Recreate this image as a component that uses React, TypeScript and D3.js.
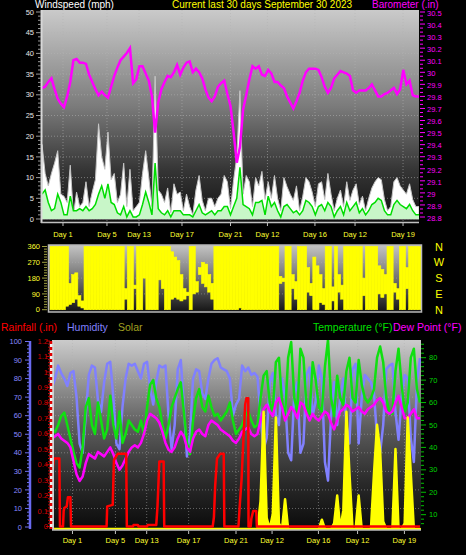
import React from 'react';
import * as d3 from 'd3';

// one sample every 6 hours across the 30 day window
const sampleHours = d3.range(0, 721, 6);
const days = sampleHours.map(h => h / 24);

const dayTicks = [1.67, 5.17, 7.72, 11.14, 15.0, 17.94, 21.72, 24.91, 28.73];
const dayLabels = ['Day 1', 'Day 5', 'Day 13', 'Day 17', 'Day 21', 'Day 12', 'Day 16', 'Day 12', 'Day 19'];

const windTicks = [0, 5, 10, 15, 20, 25, 30, 35, 40, 45, 50];
const baroTicks = [28.8, 28.9, 29.0, 29.1, 29.2, 29.3, 29.4, 29.5, 29.6, 29.7, 29.8, 29.9, 30.0, 30.1, 30.2, 30.3, 30.4, 30.5];
const dirTicks = [0, 90, 180, 270, 360];
const dirLetters = ['N', 'E', 'S', 'W', 'N'];
const humTicks = [0, 10, 20, 30, 40, 50, 60, 70, 80, 90, 100];
const rainTicks = [0, 0.1, 0.2, 0.3, 0.4, 0.5, 0.6, 0.7, 0.8, 0.9, 1, 1.1, 1.2];
const tempTicks = [10, 20, 30, 40, 50, 60, 70, 80];

// wind speed (mph)
const windGust = [
  18, 11, 8, 11, 13.5, 16.5, 6, 5.5, 4, 13,
  1, 6.5, 3, 4, 9, 3, 6.5, 9.5, 23, 15,
  12, 21, 9.5, 11, 4, 6, 13.5, 3, 12, 2,
  3, 4, 11, 16.5, 10, 3, 34.5, 7, 6, 4,
  7.5, 1.5, 8.5, 6, 6.5, 2, 6, 3, 1, 7,
  10.5, 4.5, 2, 5, 5, 3, 5, 6, 10.5, 9,
  2.5, 9.5, 15, 31, 6, 10.5, 9, 3, 10, 8,
  11.5, 4.7, 9, 5, 10.5, 5, 2, 10, 7.8, 6,
  4.5, 8, 2, 5.5, 10, 9, 6.5, 3, 8.5, 9,
  4.7, 11, 6, 2, 5, 7, 3, 9, 4.5, 7,
  8.5, 3.5, 5.5, 2, 5, 7.5, 9, 10, 9.5, 4.7,
  2, 3, 9, 10, 8, 7, 6, 8.5, 4.7, 3,
  3,
];
const windAvg = [
  6, 7, 4, 2, 2.5, 6, 4, 1, 1, 5.5,
  2, 2, 2.5, 2, 3, 2, 2.5, 3.5, 6, 8,
  5, 8.5, 4, 3.5, 1.5, 1, 3, 0.5, 2, 0.5,
  0.5, 1, 3.5, 6.5, 4, 1, 13.5, 2.5, 1.5, 1,
  2, 0.5, 2, 2, 2, 1, 1, 1, 0.5, 2,
  3.5, 1.5, 1, 1.5, 2, 1, 2, 2, 3, 3,
  1, 3, 5, 12.5, 3.5, 3, 2.5, 1, 4, 4,
  4.5, 1, 5.5, 3, 4, 2, 0.5, 3, 3.5, 2.5,
  1.5, 2, 1, 2, 4.5, 4, 3, 1, 3, 3.5,
  2, 4, 3, 0.5, 2, 3, 1, 4, 2, 3,
  4, 1.5, 2.5, 1, 2, 3.5, 4, 5, 4.5, 2,
  1, 1, 3.5, 4.5, 3.5, 3, 2.5, 3.5, 2, 1,
  1,
];
// barometer (inHg)
const baro = [
  29.87, 29.88, 29.92, 29.95, 29.86, 29.78, 29.74, 29.71, 29.8, 29.92,
  30.1, 30.11, 30.08, 30.08, 30.07, 29.98, 29.92, 29.86, 29.81, 29.84,
  29.81, 29.79, 29.88, 29.97, 30.04, 30.1, 30.13, 30.16, 30.2, 29.91,
  29.94, 30.05, 30.05, 29.99, 29.93, 29.8, 29.5, 29.75, 29.86, 29.92,
  29.97, 29.96, 30.0, 30.06, 29.98, 30.04, 30.08, 30.09, 30.0, 30.03,
  30.0, 29.95, 29.86, 29.79, 29.76, 29.8, 29.88, 29.91, 29.93, 29.82,
  29.72, 29.5, 29.25, 29.38, 29.69, 29.81, 29.94, 30.05, 30.03, 30.05,
  29.98, 29.97, 30.02, 29.99, 29.92, 29.92, 29.89, 29.87, 29.8, 29.75,
  29.7, 29.76, 29.83, 29.93, 30.0, 30.03, 30.03, 30.03, 30.02, 29.96,
  29.88, 29.83, 29.87, 29.95, 29.98, 30.01, 30.0, 29.99, 29.97, 29.85,
  29.83, 29.85, 29.85, 29.85, 29.87, 29.9, 29.85, 29.8, 29.8, 29.82,
  29.83, 29.85, 29.87, 29.82, 29.86, 30.02, 29.9, 29.93, 29.81, 29.8,
  29.8,
];
// wind direction range per 6 hour bin (degrees)
const windDirLow = [
  0, 0, 0, 0, 0, 20, 30, 40, 60, 20,
  10, 0, 0, 0, 0, 0, 0, 0, 0, 0,
  0, 0, 0, 0, 60, 0, 0, 120, 0, 0,
  180, 0, 0, 0, 0, 170, 120, 0, 0, 60,
  70, 60, 50, 60, 80, 0, 90, 100, 200, 150,
  130, 100, 60, 0, 0, 0, 0, 0, 0, 0,
  0, 10, 0, 0, 0, 0, 0, 0, 0, 0,
  0, 0, 0, 0, 150, 160, 0, 0, 120, 60,
  0, 0, 0, 100, 80, 0, 0, 40, 30, 0,
  0, 50, 0, 100, 60, 0, 0, 0, 0, 0,
  0, 80, 0, 0, 0, 0, 90, 70, 90, 0,
  0, 100, 60, 0, 0, 120, 0, 0, 0, 0,
];
const windDirHigh = [
  360, 360, 360, 360, 360, 360, 150, 200, 210, 80,
  50, 360, 360, 360, 360, 360, 360, 360, 360, 360,
  360, 360, 360, 360, 120, 360, 360, 140, 360, 360,
  360, 360, 360, 360, 360, 360, 360, 360, 360, 330,
  300, 280, 200, 120, 100, 360, 360, 160, 240, 270,
  260, 200, 150, 360, 360, 360, 360, 360, 360, 360,
  360, 360, 360, 360, 360, 360, 360, 360, 360, 360,
  360, 360, 360, 360, 190, 180, 360, 360, 200, 160,
  360, 360, 360, 240, 150, 300, 250, 200, 120, 360,
  360, 130, 360, 200, 140, 360, 360, 360, 360, 360,
  360, 180, 360, 360, 360, 360, 250, 230, 200, 360,
  360, 150, 120, 360, 360, 240, 360, 360, 360, 360,
];
// humidity (%)
const humidity = [
  75, 80, 87, 83, 80, 76, 83, 84, 70, 45,
  40, 60, 82, 87, 86, 68, 62, 78, 88, 89,
  70, 45, 42, 65, 80, 88, 87, 88, 84, 80,
  88, 89, 75, 66, 78, 87, 86, 87, 60, 42,
  55, 85, 90, 65, 38, 50, 80, 85, 84, 72,
  69, 80, 88, 90, 91, 86, 85, 84, 80, 60,
  66, 69, 87, 84, 86, 82, 83, 81, 60, 42,
  48, 78, 83, 60, 55, 80, 70, 40, 36, 72,
  78, 40, 45, 82, 86, 60, 68, 87, 80, 35,
  25, 60, 78, 55, 70, 80, 55, 45, 85, 88,
  45, 70, 82, 80, 78, 72, 48, 40, 55, 85,
  87, 88, 62, 47, 70, 82, 80, 48, 35, 78,
  91,
];
// temperature (F)
const temperature = [
  48, 47, 50, 54, 55.5, 50, 44, 38, 33, 31,
  40, 58, 62, 50, 46, 60, 52, 44, 48, 63,
  50, 44, 56, 42, 46, 52, 50, 48, 47, 52,
  46, 58, 68, 70, 62, 58, 50, 44, 50, 58,
  62, 66, 69, 56, 42, 37, 52, 62, 66, 58,
  56, 63, 58, 54, 55, 52, 54, 56, 60, 52,
  46, 48, 50, 54, 56, 52, 49, 50, 62, 72,
  74, 60, 56, 78, 80, 60, 54, 80, 87, 62,
  56, 84, 80, 58, 55, 78, 70, 58, 56, 76,
  88, 62, 54, 72, 62, 59, 74, 80, 62, 60,
  79, 68, 62, 60, 62, 66, 80, 85, 78, 62,
  56, 55, 74, 84, 68, 56, 60, 80, 84, 66,
  60,
];
// dew point (F)
const dewPoint = [
  44, 45, 46, 44, 43, 42, 40, 34, 28, 25,
  27, 33, 37, 36, 35, 38, 37, 36, 38, 40,
  37, 33, 30, 32, 35, 38, 40, 41, 40, 42,
  46, 52, 55, 54, 53, 51, 47, 42, 39, 38,
  40, 44, 47, 45, 40, 38, 44, 47, 48, 46,
  45, 50, 52, 51, 50, 48, 47, 46, 45, 43,
  42, 44, 47, 48, 49, 46, 45, 46, 52, 57,
  59, 56, 54, 60, 62, 58, 52, 55, 58, 56,
  53, 60, 59, 55, 52, 55, 53, 52, 54, 56,
  55, 51, 48, 52, 56, 57, 59, 58, 56, 57,
  58, 56, 55, 57, 58, 59, 61, 62, 60, 56,
  55, 56, 60, 63, 58, 53, 53, 55, 57, 53,
  53,
];
// solar (W/m2)
const solar = [
  0, 0, 0, 0, 0, 0, 0, 0, 0, 0,
  0, 0, 0, 0, 0, 0, 0, 0, 0, 0,
  0, 0, 0, 0, 0, 0, 0, 0, 0, 0,
  0, 0, 0, 0, 0, 0, 0, 0, 0, 0,
  0, 0, 0, 0, 0, 0, 0, 0, 0, 0,
  0, 0, 0, 0, 0, 0, 0, 0, 0, 0,
  0, 0, 0, 0, 0, 0, 0, 0, 150, 630,
  60, 0, 80, 600, 30, 0, 160, 0, 0, 0,
  0, 0, 0, 0, 0, 0, 0, 0, 50, 0,
  0, 0, 30, 180, 0, 100, 630, 300, 0, 0,
  180, 0, 0, 0, 0, 300, 560, 420, 40, 0,
  0, 0, 430, 0, 0, 30, 600, 300, 0, 0,
  0,
];
// daily rain (in): [day, value]
const rain: [number, number][] = [
  [0, 0.32], [0.15, 0.44], [0.6, 0.44], [0.65, 0], [0.9, 0], [0.95, 0.1], [1.0, 0.12], [1.2, 0.13],
  [1.3, 0.19], [1.5, 0.19], [1.55, 0], [4.45, 0], [4.5, 0.13], [4.95, 0.14], [5.05, 0.43], [5.35, 0.47],
  [6.05, 0.47], [6.1, 0], [6.6, 0], [6.65, 0.01], [7.0, 0.01], [7.05, 0], [7.75, 0], [7.8, 0.01],
  [8.5, 0.01], [8.6, 0.13], [8.75, 0.42], [9.1, 0.42], [9.15, 0], [13.1, 0], [13.2, 0.06], [13.3, 0.26],
  [13.45, 0.44], [13.7, 0.47], [14.0, 0.47], [14.05, 0], [15.2, 0], [15.3, 0.13], [15.45, 0.3], [15.6, 0.56],
  [15.75, 0.79], [15.85, 0.83], [16.0, 0.83], [16.02, 0], [16.2, 0], [16.25, 0.05], [16.4, 0.1], [16.65, 0.1],
  [16.7, 0], [30, 0],
];

const FONT = '"Liberation Sans", Arial, sans-serif';

// scales
const xTop = d3.scaleLinear().domain([0, 30]).range([42, 419]);
const xMid = d3.scaleLinear().domain([0, 30]).range([50, 421]);
const xBot = d3.scaleLinear().domain([0, 30]).range([52, 420]);
const yWind = d3.scaleLinear().domain([0, 50]).range([219, 12]);
const yBaro = d3.scaleLinear().domain([28.8, 30.5]).range([217, 12]);
const yDir = d3.scaleLinear().domain([0, 360]).range([309.7, 246.5]);
const yHum = d3.scaleLinear().domain([0, 100]).range([527, 341.5]);
const yRain = d3.scaleLinear().domain([0, 1.2]).range([526.5, 341]);
const yTemp = d3.scaleLinear().domain([0, 80]).range([537.1, 357.7]);
const ySolar = d3.scaleLinear().domain([0, 1000]).range([529, 343]);

const fmt1 = (v: number) => String(+v.toFixed(1));

const App: React.FC = () => {
  const gustPath = d3.area<number>()
    .x((_, i) => xTop(days[i])).y0(yWind(0)).y1(d => yWind(d))(windGust) || '';
  const avgArea = d3.area<number>()
    .x((_, i) => xTop(days[i])).y0(yWind(0)).y1(d => yWind(d))(windAvg) || '';
  const avgLine = d3.line<number>()
    .x((_, i) => xTop(days[i])).y(d => yWind(d))(windAvg) || '';
  const baroLine = d3.line<number>()
    .x((_, i) => xTop(days[i])).y(d => yBaro(d))(baro) || '';

  const botLine = (scale: d3.ScaleLinear<number, number>) =>
    d3.line<number>().x((_, i) => xBot(days[i])).y(d => scale(d));
  const humPath = botLine(yHum)(humidity) || '';
  const tempPath = botLine(yTemp)(temperature) || '';
  const dewPath = botLine(yTemp)(dewPoint) || '';
  const solarPath = d3.area<number>()
    .x((_, i) => xBot(days[i])).y0(ySolar(0)).y1(d => ySolar(d))(solar) || '';
  const rainPath = d3.line<[number, number]>()
    .x(d => xBot(d[0])).y(d => yRain(d[1]))(rain) || '';

  const windMinor = d3.range(0, 51, 1);
  const baroMinor = d3.range(0, 52).map(k => 28.8 + k * (0.1 / 3));
  const dirMinor = d3.range(0, 361, 15);
  const humMinor = d3.range(0, 101, 2);
  const rainMinor = d3.range(0, 61).map(k => k * 0.02);
  const tempMinor = d3.range(6, 88, 2);

  return (
    <svg width={466} height={555} style={{ position: 'absolute', left: 0, top: 0, background: '#000' }}>
      <defs>
        <linearGradient id="gTop" x1="0" y1="0" x2="0" y2="1">
          <stop offset="0" stopColor="#cacaca" />
          <stop offset="0.45" stopColor="#7c7c7c" />
          <stop offset="0.75" stopColor="#363636" />
          <stop offset="1" stopColor="#101010" />
        </linearGradient>
        <linearGradient id="gMid" x1="0" y1="0" x2="0" y2="1">
          <stop offset="0" stopColor="#c4c4c4" />
          <stop offset="0.5" stopColor="#707070" />
          <stop offset="1" stopColor="#141414" />
        </linearGradient>
        <linearGradient id="gBot" x1="0" y1="0" x2="0" y2="1">
          <stop offset="0" stopColor="#cbcbcb" />
          <stop offset="0.45" stopColor="#5e5e5e" />
          <stop offset="0.75" stopColor="#2a2a2a" />
          <stop offset="1" stopColor="#0a0a0a" />
        </linearGradient>
        <clipPath id="cTop"><rect x={42} y={10} width={377} height={212} /></clipPath>
        <clipPath id="cMid"><rect x={48} y={245} width={374} height={67} /></clipPath>
        <clipPath id="cBot"><rect x={52} y={340} width={369} height={190} /></clipPath>
      </defs>

      {/* ---------- top panel: wind speed + barometer ---------- */}
      <rect x={42} y={10} width={377} height={212} fill="url(#gTop)" />
      <g stroke="#b4b4b4" strokeDasharray="1,2" strokeWidth={1} opacity={0.55}>
        {windTicks.slice(1, -1).map(t => (
          <line key={t} x1={42} x2={419} y1={yWind(t)} y2={yWind(t)} />
        ))}
        {dayTicks.map(d => (
          <line key={d} x1={xTop(d)} x2={xTop(d)} y1={10} y2={222} />
        ))}
      </g>
      <g clipPath="url(#cTop)">
        <path d={gustPath} fill="#ffffff" stroke="#c4c4c4" strokeWidth={1} />
        <path d={avgArea} fill="#c8f6c8" />
        <path d={avgLine} fill="none" stroke="#00dd00" strokeWidth={1.5} />
        <path d={baroLine} fill="none" stroke="#ff00ff" strokeWidth={2.5} />
      </g>
      <line x1={41.5} x2={41.5} y1={10} y2={223} stroke="#d8d8d8" strokeWidth={2} />
      <line x1={41} x2={419} y1={222.5} y2={222.5} stroke="#c0c0c0" strokeWidth={1.5} />
      <g stroke="#9a9a9a">
        {windMinor.map(t => (
          <line key={t} x1={t % 5 === 0 ? 36 : 38} x2={41} y1={yWind(t)} y2={yWind(t)} />
        ))}
      </g>
      <g stroke="#ff00ff">
        {baroMinor.map((t, k) => (
          <line key={k} x1={420} x2={k % 3 === 0 ? 425 : 423} y1={yBaro(t)} y2={yBaro(t)} />
        ))}
      </g>
      <g fontFamily={FONT} fontSize={7.5}>
        {windTicks.map(t => (
          <text key={t} x={34} y={yWind(t)} dy="0.35em" textAnchor="end" fill="#e6e6e6">{t}</text>
        ))}
        {baroTicks.map(t => (
          <text key={t} x={427} y={yBaro(t)} dy="0.5em" fill="#ff00ff">{fmt1(t)}</text>
        ))}
        {dayTicks.map((d, i) => (
          <text key={i} x={xTop(d)} y={237} textAnchor="middle" fill="#ffff30">{dayLabels[i]}</text>
        ))}
      </g>
      <g stroke="#c0c0c0">
        {dayTicks.map(d => (
          <line key={d} x1={xTop(d)} x2={xTop(d)} y1={223} y2={226} />
        ))}
      </g>
      <g fontFamily={FONT} fontSize={10}>
        <text x={35} y={8} fill="#ffffff">Windspeed (mph)</text>
        <text x={172} y={8} fill="#ffff00">Current last 30 days September 30 2023</text>
        <text x={372} y={8} fill="#ff00ff">Barometer (.in)</text>
      </g>

      {/* ---------- middle panel: wind direction ---------- */}
      <rect x={48} y={245} width={374} height={67} fill="url(#gMid)" />
      <g stroke="#b4b4b4" strokeDasharray="1,2" strokeWidth={1} opacity={0.45}>
        {dirTicks.slice(1, -1).map(t => (
          <line key={t} x1={48} x2={422} y1={yDir(t)} y2={yDir(t)} />
        ))}
      </g>
      <g clipPath="url(#cMid)" fill="#ffff00" stroke="#ffff00" strokeWidth={0.6}>
        {windDirLow.map((lo, i) => (
          <rect key={i} x={xMid(days[i])} width={xMid(days[i + 1]) - xMid(days[i])}
            y={yDir(windDirHigh[i])} height={yDir(lo) - yDir(windDirHigh[i])} />
        ))}
      </g>
      <rect x={48.5} y={245} width={373} height={67} fill="none" stroke="#b8b8b8" strokeWidth={1.5} />
      <g stroke="#a0a040">
        {dirMinor.map(t => (
          <line key={t} x1={t % 90 === 0 ? 42 : 44} x2={47} y1={yDir(t)} y2={yDir(t)} />
        ))}
      </g>
      <g fontFamily={FONT} fontSize={7.5} fill="#ffff30">
        {dirTicks.map(t => (
          <text key={t} x={40} y={yDir(t)} dy="0.35em" textAnchor="end">{t}</text>
        ))}
      </g>
      <g fontFamily={FONT} fontSize={11} fill="#ffff00">
        {dirTicks.map((t, i) => (
          <text key={i} x={439} y={yDir(t)} dy="0.38em" textAnchor="middle">{dirLetters[i]}</text>
        ))}
      </g>

      {/* ---------- legend row ---------- */}
      <g fontFamily={FONT} fontSize={10.5}>
        <text x={1} y={331} fill="#ff0000">Rainfall (.in)</text>
        <text x={67} y={331} fill="#8080ff">Humidity</text>
        <text x={118} y={331} fill="#a0a020">Solar</text>
        <text x={313} y={331} fill="#00e000">Temperature (°F)</text>
        <text x={393} y={331} fill="#ff00ff">Dew Point (°F)</text>
      </g>

      {/* ---------- bottom panel: rain, humidity, solar, temperature ---------- */}
      <rect x={52} y={340} width={369} height={190} fill="url(#gBot)" />
      <g stroke="#b4b4b4" strokeDasharray="1,2" strokeWidth={1} opacity={0.5}>
        {humTicks.slice(1, -1).map(t => (
          <line key={t} x1={52} x2={421} y1={yHum(t)} y2={yHum(t)} />
        ))}
        {dayTicks.map(d => (
          <line key={d} x1={xBot(d)} x2={xBot(d)} y1={340} y2={530} />
        ))}
      </g>
      <g clipPath="url(#cBot)" fill="none" strokeLinejoin="round">
        <path d={humPath} stroke="#8080ff" strokeWidth={2.5} />
        <path d={tempPath} stroke="#10e010" strokeWidth={2.5} />
        <path d={dewPath} stroke="#ff00ff" strokeWidth={2.5} />
        <path d={solarPath} fill="#ffff00" stroke="#ffff00" strokeWidth={2.5} />
        <path d={rainPath} stroke="#ff0000" strokeWidth={2.5} />
      </g>
      <line x1={53} x2={53} y1={340} y2={530} stroke="#d0d0d0" strokeWidth={2} />
      <line x1={52} x2={421} y1={530} y2={530} stroke="#bdbdbd" strokeWidth={1.5} />
      {/* humidity axis */}
      <line x1={30} x2={30} y1={341} y2={529} stroke="#6a6af0" strokeWidth={2.5} />
      <g stroke="#7070f0">
        {humMinor.map(t => (
          <line key={t} x1={t % 10 === 0 ? 25 : 27} x2={29} y1={yHum(t)} y2={yHum(t)} />
        ))}
      </g>
      {/* rain axis */}
      <line x1={51} x2={51} y1={341} y2={529} stroke="#f0f0f0" strokeWidth={2.5} />
      <line x1={51} x2={51} y1={341} y2={529} stroke="#e00000" strokeWidth={2.5} strokeDasharray="3,3" />
      <g stroke="#c00000">
        {rainMinor.map((t, k) => (
          <line key={k} x1={k % 5 === 0 ? 46 : 48} x2={50} y1={yRain(t)} y2={yRain(t)} />
        ))}
      </g>
      {/* temperature axis */}
      <g stroke="#00c000">
        {tempMinor.map(t => (
          <line key={t} x1={421} x2={t % 10 === 0 ? 426 : 424} y1={yTemp(t)} y2={yTemp(t)} />
        ))}
      </g>
      <g fontFamily={FONT} fontSize={7.5}>
        {humTicks.map(t => (
          <text key={t} x={22} y={yHum(t)} dy="0.35em" textAnchor="end" fill="#8888ff">{t}</text>
        ))}
        {rainTicks.map(t => (
          <text key={t} x={48} y={yRain(t)} dy="0.35em" textAnchor="end" fill="#d00000">{fmt1(t)}</text>
        ))}
        {tempTicks.map(t => (
          <text key={t} x={429} y={yTemp(t)} dy="0.35em" fill="#00d000">{t}</text>
        ))}
        {dayTicks.map((d, i) => (
          <text key={i} x={xBot(d)} y={543} textAnchor="middle" fill="#ffff30">{dayLabels[i]}</text>
        ))}
      </g>
      <g stroke="#c0c0c0">
        {dayTicks.map(d => (
          <line key={d} x1={xBot(d)} x2={xBot(d)} y1={531} y2={534} />
        ))}
      </g>
    </svg>
  );
};

export default App;
